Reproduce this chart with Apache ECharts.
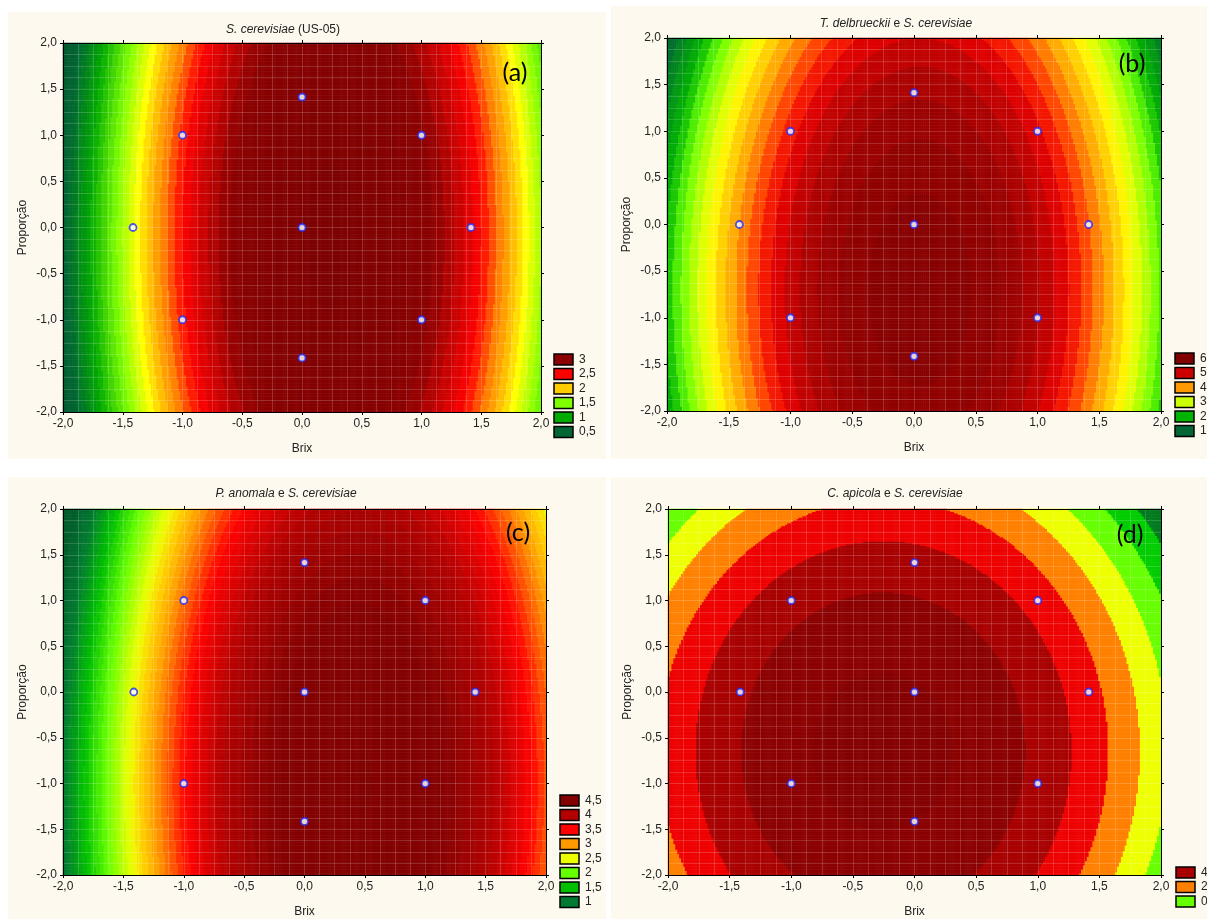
<!DOCTYPE html>
<html>
<head>
<meta charset="utf-8">
<script src="https://cdn.jsdelivr.net/npm/echarts@6/dist/echarts.min.js"></script>
<style>
html, body { margin: 0; background: #fff; }
#chart { width: 1207px; height: 919px; }
</style>
</head>
<body>
<div id="chart"></div>
<script>
// fitted response surfaces: [b0, bBrix, bProp, bBrix2, bProp2, bBrixProp]
var surfaceA = [3.40, 0.30, -0.012, -0.60, -0.06, 0];
var surfaceB = [6.09, 0.098, -0.225, -0.98, -0.161, 0];
var surfaceC = [4.60, 0.576, -0.16, -0.64, -0.08, 0];
var surfaceD = [6.08, -0.50, -0.57, -1.00, -0.44, 0];

// central composite design points (white dots)
var designBrix = [-1, 1, -1, 1, -1.414, 1.414, 0, 0, 0];
var designProp = [-1, -1, 1, 1, 0, 0, -1.414, 1.414, 0];

var legendA = ['3', '2,5', '2', '1,5', '1', '0,5'];
var legendB = ['6', '5', '4', '3', '2', '1'];
var legendC = ['4,5', '4', '3,5', '3', '2,5', '2', '1,5', '1'];
var legendD = ['4', '2', '0'];

var titleA = '{i|S. cerevisiae} (US-05)';
var titleB = '{i|T. delbrueckii} e {i|S. cerevisiae}';
var titleC = '{i|P. anomala} e {i|S. cerevisiae}';
var titleD = '{i|C. apicola} e {i|S. cerevisiae}';

// colour ramps (value -> colour)
var rampA = [[0, '#004d2a'], [0.5, '#006633'], [1, '#00aa00'], [1.5, '#80ff00'], [1.85, '#ffff00'], [2, '#ffcc00'], [2.25, '#ff8000'], [2.5, '#ff0000'], [2.75, '#c80000'], [3, '#8b0000'], [3.6, '#7a0000']];
var rampB = [[0, '#004d2a'], [1, '#006633'], [2, '#00b400'], [2.5, '#66ff00'], [3, '#ccff00'], [3.3, '#ffff00'], [3.65, '#ffcc00'], [4, '#ff9900'], [4.4, '#ff4000'], [4.75, '#ee0000'], [5, '#cc0000'], [5.5, '#a00000'], [6, '#8b0000'], [6.5, '#7d0000']];
var rampC = [[0.5, '#005a2a'], [1, '#007a30'], [1.5, '#00c000'], [2, '#66ff00'], [2.5, '#eeff00'], [2.75, '#ffcc00'], [3, '#ff9900'], [3.25, '#ff5000'], [3.5, '#ff0000'], [4, '#b40000'], [4.5, '#850000'], [5.5, '#780000']];
var rampD = [[-1.5, '#007a1e'], [-0.5, '#00cc00'], [0.5, '#66ff00'], [1.5, '#eeff00'], [2.5, '#ff8000'], [3.5, '#ee0000'], [4.5, '#a80000'], [5.5, '#8b0000'], [6.5, '#850000']];

var legendColA = ['#8b0000', '#ff0000', '#ffcc00', '#80ff00', '#00aa00', '#006633'];
var legendColB = ['#800000', '#cc0000', '#ff9900', '#ccff00', '#00b400', '#006633'];
var legendColC = ['#820000', '#b40000', '#ff0000', '#ff9900', '#eeff00', '#66ff00', '#00c000', '#007a30'];
var legendColD = ['#a80000', '#ff8000', '#66ff00'];

var FONT = '"Liberation Sans", Arial, sans-serif';
var N = 260; // surface cells per side

var panels = [
    { surf: surfaceA, ramp: rampA, lo: 0, hi: 3.6, step: 0.1, title: titleA, tag: '(a)', legend: legendA, legendCol: legendColA,
      grid: { left: 63, top: 43, width: 478, height: 369 }, titleX: 283, titleY: 24, tagX: 515, tagY: 73,
      legX: 554, legY: 354, bg: [8, 12, 598, 447] },
    { surf: surfaceB, ramp: rampB, lo: 0, hi: 6.5, step: 0.25, title: titleB, tag: '(b)', legend: legendB, legendCol: legendColB,
      grid: { left: 667, top: 38, width: 494, height: 373 }, titleX: 896, titleY: 18, tagX: 1132, tagY: 64,
      legX: 1175, legY: 353, bg: [611, 6, 596, 453] },
    { surf: surfaceC, ramp: rampC, lo: 0.5, hi: 5.5, step: 0.1, title: titleC, tag: '(c)', legend: legendC, legendCol: legendColC,
      grid: { left: 63, top: 509, width: 483, height: 373 }, titleX: 286, titleY: 488, tagX: 518, tagY: 533,
      legX: 560, legY: 795, bg: [8, 477, 598, 442] },
    { surf: surfaceD, ramp: rampD, lo: -3, hi: 7, step: 1, title: titleD, tag: '(d)', legend: legendD, legendCol: legendColD,
      grid: { left: 668, top: 509, width: 493, height: 373 }, titleX: 895, titleY: 488, tagX: 1130, tagY: 535,
      legX: 1176, legY: 867, bg: [611, 477, 596, 442] }
];

function hexRgb(h) {
    return [parseInt(h.substr(1, 2), 16), parseInt(h.substr(3, 2), 16), parseInt(h.substr(5, 2), 16)];
}
function rampColour(stops, v) {
    if (v <= stops[0][0]) return stops[0][1];
    for (var i = 1; i < stops.length; i++) {
        if (v <= stops[i][0]) {
            var t = (v - stops[i - 1][0]) / (stops[i][0] - stops[i - 1][0]);
            var a = hexRgb(stops[i - 1][1]), b = hexRgb(stops[i][1]);
            return 'rgb(' + a.map(function (c, k) { return Math.round(c + (b[k] - c) * t); }).join(',') + ')';
        }
    }
    return stops[stops.length - 1][1];
}
function bandPieces(p) {
    var pieces = [];
    var n = Math.round((p.hi - p.lo) / p.step);
    for (var i = 0; i < n; i++) {
        var lo = p.lo + i * p.step, hi = lo + p.step;
        var piece = { color: rampColour(p.ramp, lo + p.step / 2) };
        if (i > 0) piece.gte = lo;
        if (i < n - 1) piece.lt = hi;
        pieces.push(piece);
    }
    return pieces;
}
function surfaceAt(c, x, y) {
    return c[0] + c[1] * x + c[2] * y + c[3] * x * x + c[4] * y * y + c[5] * x * y;
}
function cellCentre(i) { return -2 + (i + 0.5) * 4 / N; }

var cells = [];
for (var i = 0; i < N; i++) cells.push(i);

function fmt(v) { return v.toFixed(1).replace('.', ','); }

var xAxes = [], yAxes = [], grids = [], series = [], visualMaps = [], titles = [], graphics = [];
var lineCol = 'rgba(255,255,255,0.16)';

panels.forEach(function (p, k) {
    grids.push({ left: p.grid.left, top: p.grid.top, width: p.grid.width, height: p.grid.height, containLabel: false });

    var valueAxis = function (pos, labels) {
        return {
            type: 'value', gridIndex: k, position: pos, min: -2, max: 2, interval: 0.5, z: 3,
            axisLine: { show: true, onZero: false, lineStyle: { color: '#000', width: 1 } },
            axisTick: { show: true, length: 3, lineStyle: { color: '#000' } },
            axisLabel: { show: labels, margin: 6, formatter: fmt, color: '#222', fontSize: 12, fontFamily: FONT },
            splitLine: { show: labels, lineStyle: { color: lineCol, width: 1 } },
            minorTick: { show: false, splitNumber: 4 },
            minorSplitLine: { show: labels, lineStyle: { color: lineCol, width: 1 } }
        };
    };
    var bx = valueAxis('bottom', true);
    bx.name = 'Brix'; bx.nameLocation = 'middle'; bx.nameGap = 31;
    bx.nameTextStyle = { color: '#222', fontSize: 12, fontFamily: FONT };
    var ly = valueAxis('left', true);
    ly.name = 'Proporção'; ly.nameLocation = 'middle'; ly.nameGap = 34;
    ly.nameTextStyle = { color: '#222', fontSize: 12, fontFamily: FONT };

    xAxes.push({ type: 'category', gridIndex: k, data: cells, show: false });
    xAxes.push(bx);
    xAxes.push(valueAxis('top', false));
    yAxes.push({ type: 'category', gridIndex: k, data: cells, show: false });
    yAxes.push(ly);
    yAxes.push(valueAxis('right', false));

    var data = [];
    for (var a = 0; a < N; a++) {
        for (var b = 0; b < N; b++) {
            data.push([a, b, surfaceAt(p.surf, cellCentre(a), cellCentre(b))]);
        }
    }
    series.push({
        type: 'heatmap', xAxisIndex: 3 * k, yAxisIndex: 3 * k, data: data,
        progressive: 0, z: 1, silent: true, emphasis: { disabled: true }
    });
    visualMaps.push({ type: 'piecewise', show: false, seriesIndex: k, dimension: 2, pieces: bandPieces(p) });

    titles.push({
        text: p.title, left: p.titleX, top: p.titleY, textAlign: 'center', padding: 0,
        textStyle: {
            color: '#222', fontSize: 12, fontWeight: 'normal', fontFamily: FONT,
            rich: { i: { fontStyle: 'italic', fontSize: 12, color: '#222', fontFamily: FONT } }
        }
    });

    graphics.push({ type: 'rect', z: -10, silent: true,
        shape: { x: p.bg[0], y: p.bg[1], width: p.bg[2], height: p.bg[3] },
        style: { fill: '#fdf9ef' } });
    graphics.push({ type: 'text', z: 20, x: p.tagX, y: p.tagY,
        style: { text: p.tag, font: '25px Lato, "Open Sans", sans-serif', fill: '#000', align: 'center', verticalAlign: 'middle' } });
    p.legend.forEach(function (lab, j) {
        var y = p.legY + j * 14.5;
        graphics.push({ type: 'rect', z: 20, shape: { x: p.legX, y: y, width: 19, height: 11 },
            style: { fill: p.legendCol[j], stroke: '#000', lineWidth: 1.5 } });
        graphics.push({ type: 'text', z: 20, x: p.legX + 25, y: y + 5.5,
            style: { text: lab, font: '12px ' + FONT, fill: '#222', verticalAlign: 'middle' } });
    });
});

panels.forEach(function (p, k) {
    series.push({
        type: 'scatter', xAxisIndex: 3 * k + 1, yAxisIndex: 3 * k + 1, z: 5, silent: true,
        symbol: 'circle', symbolSize: 7,
        itemStyle: { color: '#ffffff', borderColor: '#1f2bff', borderWidth: 1.8 },
        data: designBrix.map(function (x, j) { return [x, designProp[j]]; })
    });
});

var chart = echarts.init(document.getElementById('chart'), null, { renderer: 'canvas' });
chart.setOption({
    animation: false,
    backgroundColor: '#ffffff',
    title: titles,
    grid: grids,
    xAxis: xAxes,
    yAxis: yAxes,
    visualMap: visualMaps,
    series: series,
    graphic: { elements: graphics }
});
</script>
</body>
</html>
